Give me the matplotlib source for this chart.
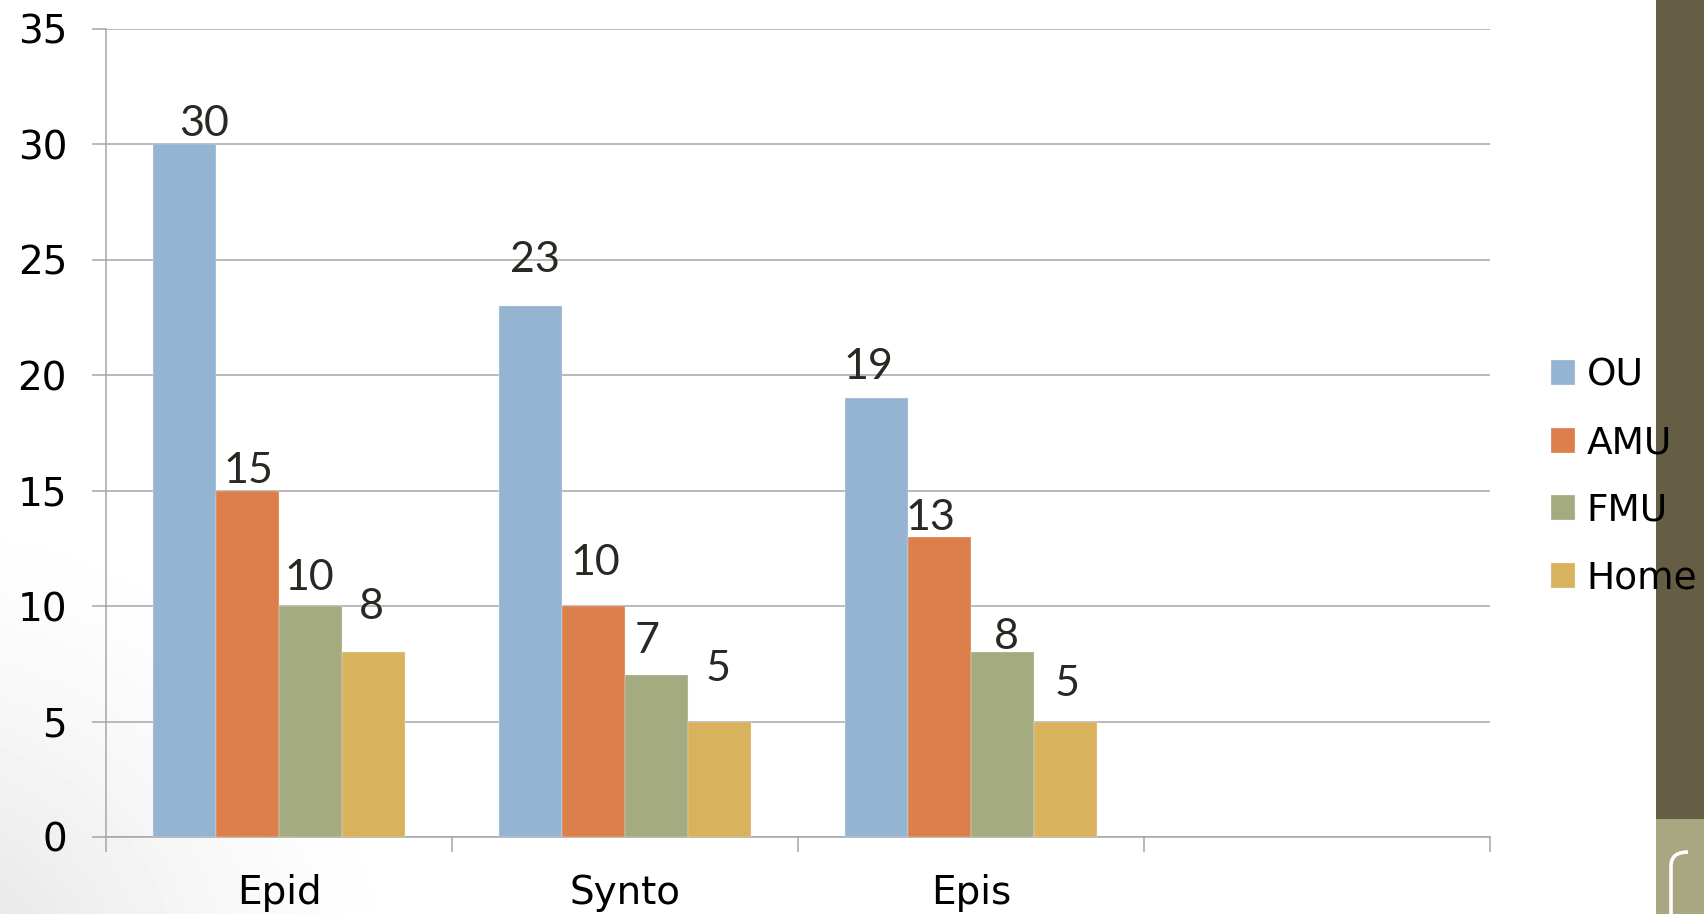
import matplotlib.pyplot as plt
import numpy as np
from matplotlib.patches import Rectangle, PathPatch
from matplotlib.path import Path

categories = ['Epid', 'Synto', 'Epis', '']
series = ['OU', 'AMU', 'FMU', 'Home']
ou = [30, 23, 19]
amu = [15, 10, 13]
fmu = [10, 7, 8]
home = [8, 5, 5]
values = [ou, amu, fmu, home]

colors = ['#94B4D2', '#DD7F4A', '#A4AB80', '#D8B25C']
grid_col = '#A6A6A6'
label_col = '#2A2822'

# label nudges (px): dx, dy above bar top, per series / category
nudge = [
    [(20, 20), (4, 46), (-8, 31)],
    [(1, 20), (2, 43), (-9, 19)],
    [(-1, 28), (-9, 34), (4, 15)],
    [(-2, 45), (-1, 53), (2, 38)],
]

W, H = 1704, 914
fig = plt.figure(figsize=(W / 100, H / 100), dpi=100)

# background: white with a soft grey shade in the lower-left corner
bg = fig.add_axes([0, 0, 1, 1], zorder=0)
bg.set_xlim(0, W)
bg.set_ylim(H, 0)
bg.axis('off')
yy, xx = np.mgrid[0:H, 0:W]
d = np.hypot(xx + 80, yy - (H + 80))
shade = np.clip(1 - d / 520, 0, 1) ** 1.6 * 0.13
bg.imshow(1 - shade, cmap='gray', vmin=0, vmax=1, extent=[0, W, H, 0], aspect='auto')

# slide decoration on the right edge
bg.add_patch(Rectangle((1656, 0), W - 1656, 819, color='#665D45', lw=0))
bg.add_patch(Rectangle((1656, 819), W - 1656, H - 819, color='#A9A682', lw=0))
hook = Path([(1671, H + 2), (1671, 866), (1671, 852), (1688, 852)],
            [Path.MOVETO, Path.LINETO, Path.CURVE3, Path.CURVE3])
bg.add_patch(PathPatch(hook, fill=False, ec='white', lw=2.6, capstyle='butt'))

ax = fig.add_axes([106 / W, 77 / H, 1384 / W, 808 / H], zorder=1)
ax.patch.set_alpha(0)

n = len(series)
bw = 0.182
for j in range(n):
    xs = np.arange(len(values[j])) + (j - (n - 1) / 2) * bw
    ax.bar(xs, values[j], bw, color=colors[j], label=series[j], zorder=3,
           edgecolor='#EEEEEE', linewidth=0.25)
    for i, v in enumerate(values[j]):
        dx, dy = nudge[j][i]
        ax.annotate(str(v), (xs[i], v), xytext=(dx * 0.72, dy * 0.72),
                    textcoords='offset points', ha='center', va='center',
                    fontsize=31, family='Lato', color=label_col, zorder=4)

ax.set_xlim(-0.5, len(categories) - 0.5)
ax.set_ylim(0, 35)
ax.set_yticks(range(0, 36, 5))
ax.yaxis.grid(True, color=grid_col, lw=1.1)
ax.set_axisbelow(True)

ax.set_xticks(range(len(categories)))
ax.set_xticklabels(categories)
ax.set_xticks(np.arange(-0.5, len(categories), 1), minor=True)
ax.tick_params(axis='x', which='major', length=0, pad=27, labelsize=28)
ax.tick_params(axis='x', which='minor', length=10.5, width=1.1, color=grid_col)
ax.tick_params(axis='y', length=10, width=1.1, color=grid_col, pad=18, labelsize=28)

for s in ['top', 'right']:
    ax.spines[s].set_visible(False)
for s in ['left', 'bottom']:
    ax.spines[s].set_color(grid_col)
    ax.spines[s].set_linewidth(1.1)

fig.legend(loc='center left', bbox_to_anchor=(1551 / W, 1 - 477 / H),
           frameon=False, fontsize=27, borderpad=0, borderaxespad=0,
           handlelength=0.65, handleheight=0.65, handletextpad=0.3,
           labelspacing=0.84)

fig.savefig('out.png', dpi=100)
